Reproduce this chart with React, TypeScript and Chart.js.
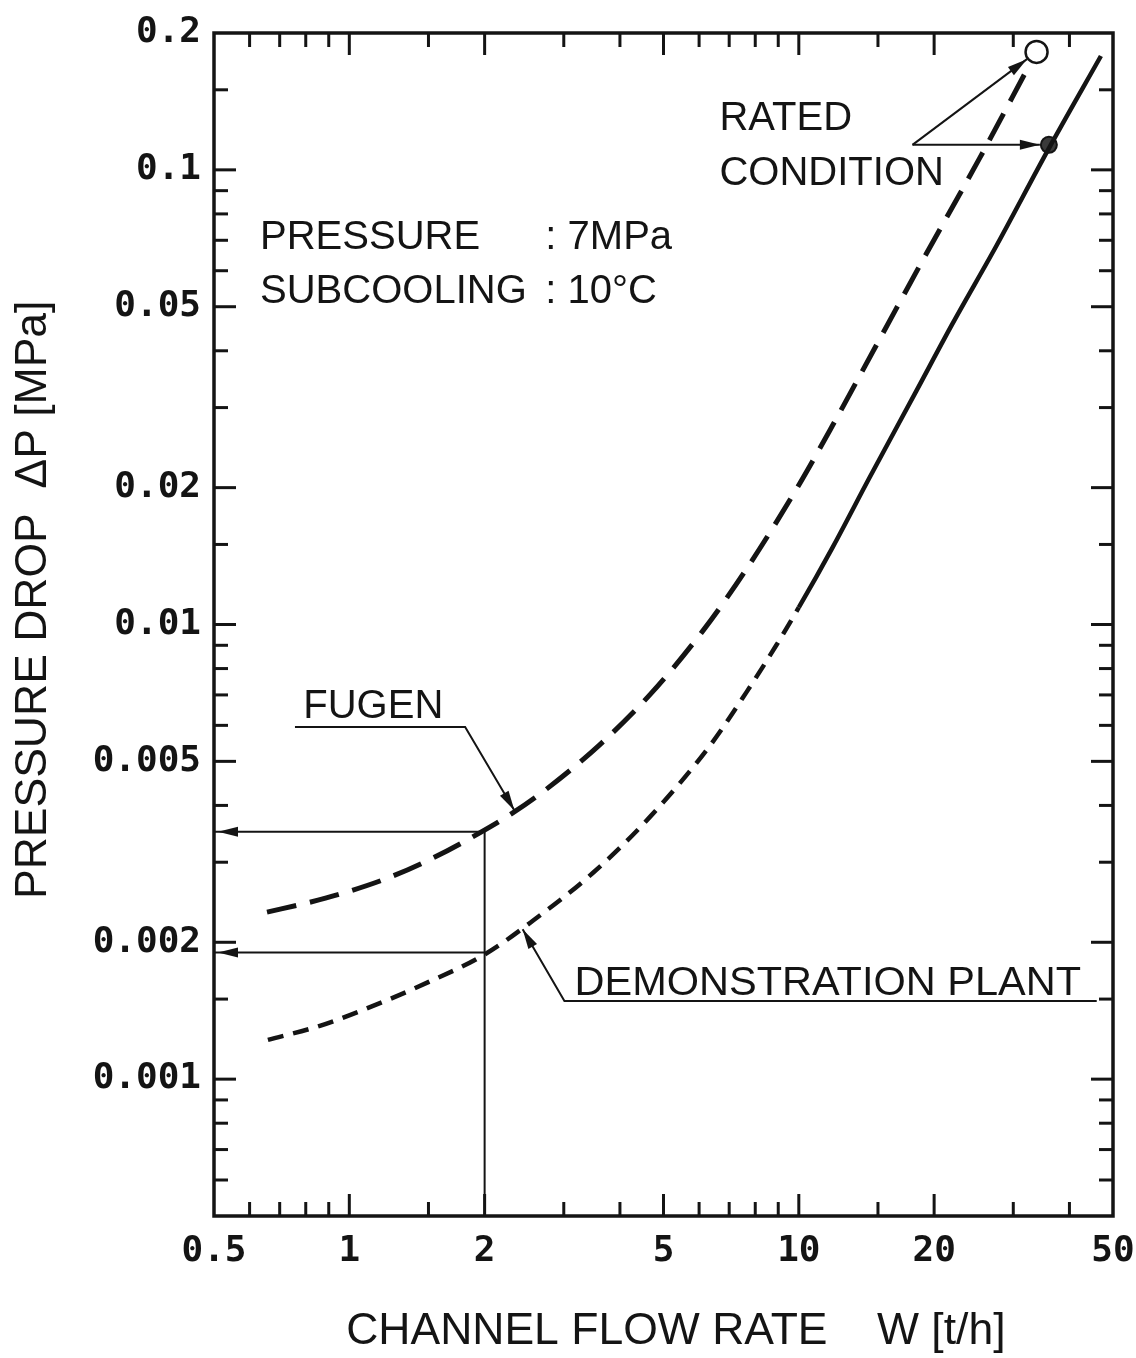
import React, { useEffect, useRef } from "react";
import { Chart, registerables } from "chart.js";

Chart.register(...registerables);

// ---- axes ----
const FLOW_MIN = 0.5;
const FLOW_MAX = 50;
const DP_MIN = 0.0005;
const DP_MAX = 0.2;
const FLOW_TICKS = [0.5, 1, 2, 5, 10, 20, 50];
const FLOW_MINOR_TICKS = [0.6, 0.7, 0.8, 0.9, 1.5, 3, 4, 6, 7, 8, 9, 15, 30, 40];
const DP_TICKS = [0.2, 0.1, 0.05, 0.02, 0.01, 0.005, 0.002, 0.001];
const DP_MINOR_TICKS = [
  0.15, 0.09, 0.08, 0.07, 0.06, 0.04, 0.03, 0.015, 0.009, 0.008, 0.007, 0.006,
  0.004, 0.003, 0.0015, 0.0009, 0.0008, 0.0007, 0.0006,
];

// ---- series ----
const FUGEN_FLOW = [0.656, 0.817, 1.0, 1.23, 1.53, 1.88, 2.31, 2.75, 3.6, 4.66, 6.11, 7.65, 9.88, 11.9, 15.3, 19.2, 25.2, 32.5];
const FUGEN_DP = [0.00233, 0.00245, 0.00259, 0.00278, 0.00306, 0.00341, 0.00385, 0.00435, 0.00543, 0.007, 0.00967, 0.01325, 0.01986, 0.02746, 0.0433, 0.0653, 0.1057, 0.1692];

const DEMO_FLOW = [0.659, 0.86, 1.21, 1.49, 2.0, 2.56, 3.48, 4.66, 6.33, 7.65, 8.91, 10.0, 11.9, 14.35, 18.25, 21.9, 27.5, 36, 47];
const DEMO_DP = [0.00122, 0.00131, 0.00149, 0.00163, 0.00188, 0.00223, 0.00284, 0.00377, 0.0054, 0.0071, 0.009, 0.0109, 0.0148, 0.021, 0.0326, 0.0456, 0.068, 0.1115, 0.178];
const DEMO_SOLID_FROM = 10;

// rated condition: [Fugen, Demonstration plant]
const RATED_FLOW = [33.8, 36];
const RATED_DP = [0.1817, 0.1135];

// read-off example at W = 2 t/h: [Fugen, Demonstration plant]
const READ_FLOW = 2;
const READ_DP = [0.0035, 0.0019];

const X_TITLE = "  CHANNEL FLOW RATE    W [t/h]";
const Y_TITLE = "    PRESSURE DROP  \u0394P [MPa]";

const INK = "#141414";

const pts = (xs: number[], ys: number[]) => xs.map((x, i) => ({ x, y: ys[i] }));

function arrowHead(ctx: CanvasRenderingContext2D, fx: number, fy: number, tx: number, ty: number) {
  const ang = Math.atan2(ty - fy, tx - fx);
  const len = 20;
  const hw = 5;
  const bx = tx - Math.cos(ang) * len;
  const by = ty - Math.sin(ang) * len;
  const nx = -Math.sin(ang) * hw;
  const ny = Math.cos(ang) * hw;
  ctx.beginPath();
  ctx.moveTo(tx, ty);
  ctx.lineTo(bx + nx, by + ny);
  ctx.lineTo(bx - nx, by - ny);
  ctx.closePath();
  ctx.fill();
}

const overlay = {
  id: "overlay",
  afterDraw(chart: any) {
    const { ctx, chartArea: a, scales } = chart;
    const X = (v: number) => scales.x.getPixelForValue(v);
    const Y = (v: number) => scales.y.getPixelForValue(v);
    ctx.save();
    ctx.strokeStyle = INK;
    ctx.fillStyle = INK;
    ctx.lineCap = "butt";

    // frame
    ctx.lineWidth = 3.5;
    ctx.strokeRect(a.left, a.top, a.right - a.left, a.bottom - a.top);

    // inward ticks on all four sides
    ctx.lineWidth = 3;
    const seg = (x1: number, y1: number, x2: number, y2: number) => {
      ctx.beginPath();
      ctx.moveTo(x1, y1);
      ctx.lineTo(x2, y2);
      ctx.stroke();
    };
    [...FLOW_TICKS, ...FLOW_MINOR_TICKS].forEach((v) => {
      if (v <= FLOW_MIN || v >= FLOW_MAX) return;
      const len = FLOW_TICKS.includes(v) ? 22 : 14;
      const x = X(v);
      seg(x, a.bottom, x, a.bottom - len);
      seg(x, a.top, x, a.top + len);
    });
    [...DP_TICKS, ...DP_MINOR_TICKS].forEach((v) => {
      if (v <= DP_MIN || v >= DP_MAX) return;
      const len = DP_TICKS.includes(v) ? 22 : 14;
      const y = Y(v);
      seg(a.left, y, a.left + len, y);
      seg(a.right, y, a.right - len, y);
    });

    // arrowheads of the read-off lines at the pressure-drop axis
    READ_DP.forEach((v) => {
      const y = Y(v);
      arrowHead(ctx, a.left + 60, y, a.left + 4, y);
    });

    // leader lines
    ctx.lineWidth = 2;
    const poly = (p: number[][]) => {
      ctx.beginPath();
      p.forEach(([x, y], i) => (i ? ctx.lineTo(X(x), Y(y)) : ctx.moveTo(X(x), Y(y))));
      ctx.stroke();
      const [fx, fy] = p[p.length - 2];
      const [tx, ty] = p[p.length - 1];
      arrowHead(ctx, X(fx), Y(fy), X(tx), Y(ty));
    };
    poly([[0.757, 0.00595], [1.81, 0.00595], [2.33, 0.0039]]);
    poly([[46, 0.001486], [3.01, 0.001486], [2.43, 0.002136]]);

    // rated condition leaders
    const apx = X(17.9);
    const apy = Y(RATED_DP[1]);
    const radii = [12, 9];
    RATED_FLOW.forEach((f, i) => {
      const cx = X(f);
      const cy = Y(RATED_DP[i]);
      const d = Math.hypot(cx - apx, cy - apy);
      const tx = cx - ((cx - apx) / d) * radii[i];
      const ty = cy - ((cy - apy) / d) * radii[i];
      seg(apx, apy, tx, ty);
      arrowHead(ctx, apx, apy, tx, ty);
    });

    // texts
    ctx.textAlign = "left";
    ctx.textBaseline = "alphabetic";
    ctx.font = '40px "Liberation Sans", Arial, sans-serif';
    const texts: [string, number, number][] = [
      ["RATED", 6.66, 0.1224],
      ["CONDITION", 6.66, 0.0926],
      ["PRESSURE", 0.633, 0.067],
      [": 7MPa", 2.73, 0.067],
      ["SUBCOOLING", 0.633, 0.0509],
      [": 10\u00b0C", 2.73, 0.0509],
      ["FUGEN", 0.79, 0.00624],
    ];
    texts.forEach(([t, x, y]) => ctx.fillText(t, X(x), Y(y)));
    ctx.font = '41.5px "Liberation Sans", Arial, sans-serif';
    ctx.fillText("DEMONSTRATION PLANT", X(3.17), Y(0.00153));
    ctx.restore();
  },
};

export default function App() {
  const ref = useRef<HTMLCanvasElement>(null);
  useEffect(() => {
    const canvas = ref.current;
    if (!canvas) return;
    const tickFont = { family: '"DejaVu Sans Mono", monospace', size: 36, weight: "bold" as const };
    const titleFont = { family: '"Liberation Sans", Arial, sans-serif', size: 44.5 };
    const chart = new Chart(canvas, {
      type: "line",
      data: {
        datasets: [
          {
            label: "FUGEN",
            data: pts(FUGEN_FLOW, FUGEN_DP),
            borderColor: INK,
            borderWidth: 5,
            borderDash: [30, 14],
            pointRadius: 0,
            cubicInterpolationMode: "monotone",
            fill: false,
          },
          {
            label: "DEMONSTRATION PLANT",
            data: pts(DEMO_FLOW, DEMO_DP),
            borderColor: INK,
            borderWidth: 4.5,
            borderDash: [],
            segment: {
              borderDash: (c: any) => (c.p1.parsed.x <= DEMO_SOLID_FROM ? [16, 10] : []),
            },
            pointRadius: 0,
            cubicInterpolationMode: "monotone",
            fill: false,
          },
          {
            label: "FUGEN rated",
            data: [{ x: RATED_FLOW[0], y: RATED_DP[0] }],
            showLine: false,
            pointRadius: 11,
            pointBackgroundColor: "#ffffff",
            pointBorderColor: INK,
            pointBorderWidth: 2.5,
          },
          {
            label: "DEMONSTRATION PLANT rated",
            data: [{ x: RATED_FLOW[1], y: RATED_DP[1] }],
            showLine: false,
            pointRadius: 8,
            pointBackgroundColor: "#3a3a3a",
            pointBorderColor: INK,
            pointBorderWidth: 2,
          },
          {
            label: "read W",
            data: [{ x: READ_FLOW, y: DP_MIN }, { x: READ_FLOW, y: READ_DP[0] }],
            borderColor: INK,
            borderWidth: 2,
            pointRadius: 0,
            tension: 0,
          },
          {
            label: "read FUGEN",
            data: [{ x: FLOW_MIN, y: READ_DP[0] }, { x: READ_FLOW, y: READ_DP[0] }],
            borderColor: INK,
            borderWidth: 2,
            pointRadius: 0,
            tension: 0,
          },
          {
            label: "read DEMO",
            data: [{ x: FLOW_MIN, y: READ_DP[1] }, { x: READ_FLOW, y: READ_DP[1] }],
            borderColor: INK,
            borderWidth: 2,
            pointRadius: 0,
            tension: 0,
          },
        ],
      },
      options: {
        responsive: false,
        animation: false,
        devicePixelRatio: 1,
        events: [],
        layout: { padding: { left: 0, top: 33, right: 23, bottom: 0 } },
        plugins: { legend: { display: false }, tooltip: { enabled: false } },
        scales: {
          x: {
            type: "logarithmic",
            min: FLOW_MIN,
            max: FLOW_MAX,
            bounds: "data",
            afterBuildTicks: (s: any) => {
              s.ticks = FLOW_TICKS.map((value) => ({ value }));
            },
            afterFit: (s: any) => {
              s.height = 142;
              s.paddingLeft = 0;
              s.paddingRight = 0;
            },
            grid: { display: false, drawTicks: false },
            border: { display: false },
            ticks: {
              autoSkip: false,
              maxRotation: 0,
              padding: 14,
              color: INK,
              font: tickFont,
              callback: (v: any) => String(v),
            },
            title: { display: true, text: X_TITLE, color: INK, font: titleFont, padding: { top: 0, bottom: 0 } },
          },
          y: {
            type: "logarithmic",
            min: DP_MIN,
            max: DP_MAX,
            bounds: "data",
            afterBuildTicks: (s: any) => {
              s.ticks = DP_TICKS.map((value) => ({ value }));
            },
            afterFit: (s: any) => {
              s.width = 214;
              s.paddingTop = 0;
              s.paddingBottom = 0;
            },
            grid: { display: false, drawTicks: false },
            border: { display: false },
            ticks: {
              autoSkip: false,
              padding: 13,
              color: INK,
              font: tickFont,
              callback: (v: any) => String(v),
            },
            title: { display: true, text: Y_TITLE, color: INK, font: titleFont, padding: { top: 7, bottom: 0 } },
          },
        },
      },
      plugins: [overlay],
    });
    return () => chart.destroy();
  }, []);
  return (
    <div style={{ position: "absolute", left: 0, top: 0, width: 1136, height: 1358, background: "#ffffff" }}>
      <canvas ref={ref} width={1136} height={1358} style={{ display: "block", width: 1136, height: 1358 }} />
    </div>
  );
}
